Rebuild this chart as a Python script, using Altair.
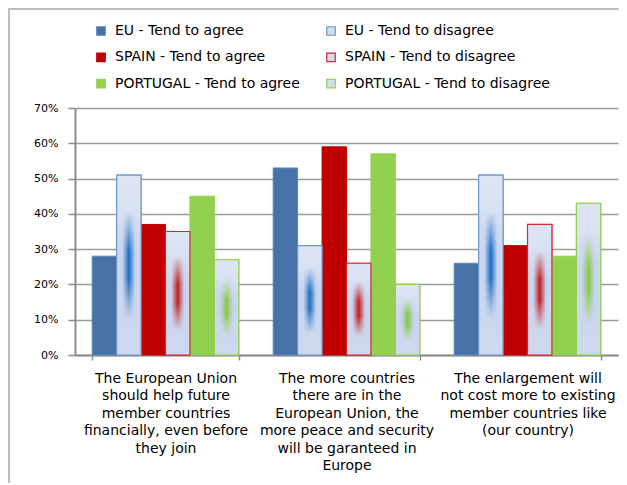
import altair as alt
import pandas as pd

categories = [
    "The European Union|should help future|member countries|financially, even before|they join",
    "The more countries|there are in the|European Union, the|more peace and  security|will be garanteed  in|Europe",
    "The enlargement  will|not cost more to existing|member countries like|(our country)",
]
series = [
    "EU - Tend to agree", "EU - Tend to disagree",
    "SPAIN - Tend to agree", "SPAIN - Tend to disagree",
    "PORTUGAL - Tend to agree", "PORTUGAL - Tend to disagree",
]
eu_agree = [28, 53, 26]
eu_disagree = [51, 31, 51]
spain_agree = [37, 59, 31]
spain_disagree = [35, 26, 37]
portugal_agree = [45, 57, 28]
portugal_disagree = [27, 20, 43]
y_ticks = [0, 0.1, 0.2, 0.3, 0.4, 0.5, 0.6, 0.7]

fill_colors = ["#4672a8", "#d3ddf0", "#c00000", "#d3ddf0", "#92d050", "#d3ddf0"]
stroke_colors = ["#5b84b8", "#7096c8", "#c00000", "#d02a2a", "#92d050", "#92d050"]
streak_colors = {"EU - Tend to disagree": "#1c6cc2",
                 "SPAIN - Tend to disagree": "#c41a1a",
                 "PORTUGAL - Tend to disagree": "#88c848"}

all_vals = [eu_agree, eu_disagree, spain_agree, spain_disagree, portugal_agree, portugal_disagree]
rows = []
for s, vals in zip(series, all_vals):
    for c, v in zip(categories, vals):
        rows.append({"category": c, "series": s, "value": v / 100})
df = pd.DataFrame(rows)

FONT = "DejaVu Sans"
legend_order = [series[0], series[2], series[4], series[1], series[3], series[5]]

x_enc = alt.X("category:N", sort=categories,
              scale=alt.Scale(paddingInner=0.19, paddingOuter=0.095),
              axis=alt.Axis(title=None, labelAngle=0, labelExpr="split(datum.label, '|')",
                            tickBand="extent", tickSize=5, tickColor="#8c8c8c", tickWidth=1.5,
                            domainColor="#8c8c8c", domainWidth=2, labelFont=FONT, labelFontSize=14,
                            labelColor="#000000", labelLineHeight=17.5, labelPadding=11,
                            labelBaseline="top", grid=False))
xo_enc = alt.XOffset("series:N", sort=series,
                     scale=alt.Scale(domain=series, paddingInner=0, paddingOuter=0))
y_enc = alt.Y("value:Q", scale=alt.Scale(domain=[0, 0.7], nice=False),
              axis=alt.Axis(title=None, format=".0%", values=y_ticks, tickSize=7,
                            tickColor="#8c8c8c", tickWidth=1.5, domainColor="#8c8c8c",
                            domainWidth=2, gridColor="#9a9a9a", gridWidth=1.5,
                            labelFont=FONT, labelFontSize=11, labelColor="#000000",
                            labelPadding=10))

legend = alt.Legend(title=None, orient="none", legendX=19, legendY=-84,
                    columns=2, columnPadding=24, rowPadding=12.3, values=legend_order,
                    symbolType="square", symbolSize=72, symbolStrokeWidth=1.2,
                    labelFont=FONT, labelFontSize=14, labelColor="#000000",
                    labelOffset=7, padding=0, labelLimit=300)

base = alt.Chart(df)

main = base.mark_bar(strokeWidth=1).encode(
    x=x_enc, xOffset=xo_enc, y=y_enc,
    fill=alt.Fill("series:N", sort=series,
                  scale=alt.Scale(domain=series, range=fill_colors), legend=legend),
    stroke=alt.Stroke("series:N", sort=series,
                      scale=alt.Scale(domain=series, range=stroke_colors), legend=legend),
)

layers = [main]
for s, col in streak_colors.items():
    grad = {
        "gradient": "linear", "x1": 0, "y1": 0, "x2": 1, "y2": 0,
        "stops": [
            {"offset": 0, "color": "#cfd9ee"},
            {"offset": 0.24, "color": "#c6d3ee"},
            {"offset": 0.5, "color": col},
            {"offset": 0.76, "color": "#c6d3ee"},
            {"offset": 1, "color": "#cfd9ee"},
        ],
    }
    layers.append(
        base.transform_filter(alt.datum.series == s).mark_bar(strokeWidth=0).encode(
            x=x_enc, xOffset=xo_enc, y=y_enc, fill=alt.value(grad))
    )

veil = {
    "gradient": "linear", "x1": 0, "y1": 0, "x2": 0, "y2": 1,
    "stops": [
        {"offset": 0, "color": "rgba(222,229,245,1)"},
        {"offset": 0.2, "color": "rgba(216,225,243,1)"},
        {"offset": 0.42, "color": "rgba(212,222,241,0)"},
        {"offset": 0.58, "color": "rgba(208,219,240,0)"},
        {"offset": 0.8, "color": "rgba(204,215,238,1)"},
        {"offset": 1, "color": "rgba(206,217,239,1)"},
    ],
}
layers.append(
    base.transform_filter(alt.FieldOneOfPredicate(field="series", oneOf=list(streak_colors)))
    .mark_bar(strokeWidth=1.2).encode(
        x=x_enc, xOffset=xo_enc, y=y_enc, fill=alt.value(veil),
        stroke=alt.Stroke("series:N", sort=series,
                          scale=alt.Scale(domain=series, range=stroke_colors), legend=None))
)

frame_df = pd.DataFrame({"a": [0]})
left_border = alt.Chart(frame_df).mark_rule(color="#bfbfbf", strokeWidth=2).encode(
    x=alt.value(-66), y=alt.value(-100), y2=alt.value(375))
top_border = alt.Chart(frame_df).mark_rule(color="#bfbfbf", strokeWidth=2).encode(
    y=alt.value(-99), x=alt.value(-67), x2=alt.value(560))
layers += [left_border, top_border]

chart = alt.layer(*layers).properties(
    width=543, height=247,
    autosize=alt.AutoSizeParams(type="none"),
    padding={"left": 67, "top": 100, "right": 1, "bottom": 128},
    background="white",
).configure_view(stroke=None)

chart.save("out.html", embed_options={"renderer": "svg", "actions": False})
